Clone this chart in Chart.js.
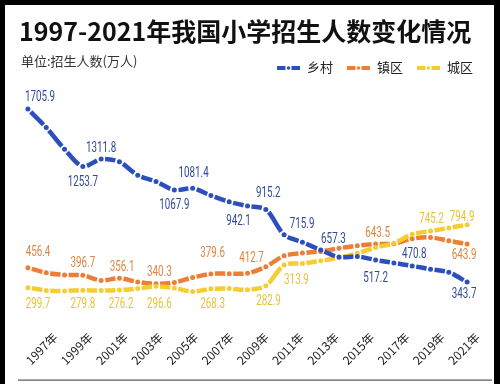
<!DOCTYPE html>
<html><head><meta charset="utf-8">
<script src="https://cdn.jsdelivr.net/npm/chart.js@4"></script>
<style>html,body{margin:0;padding:0;background:#000;} canvas{display:block;}</style>
</head><body>
<canvas id="c" width="500" height="384"></canvas>
<script>
// ---------- data ----------
const years = [1997,1998,1999,2000,2001,2002,2003,2004,2005,2006,2007,2008,2009,2010,2011,2012,2013,2014,2015,2016,2017,2018,2019,2020,2021];
const tickYears = [1997,1999,2001,2003,2005,2007,2009,2011,2013,2015,2017,2019,2021];
const rural = [1705.9,1560,1390,1253.7,1311.8,1290,1185,1135,1067.9,1081.4,1025,975,942.1,915.2,715.9,657.3,596,540,545,517.2,494,470.8,445,420,343.7];
const town  = [456.4,417,400,396.7,356.1,373,345,330,340.3,379.6,408,410,412.7,465,550,572,585,610,630,643.5,645,685,695,668,643.9];
const urban = [299.7,278,274,279.8,276.2,281,292,310,296.6,268.3,290,292,282.9,313.9,478,490,512,535,570,615,650,720,745.2,770,794.9];
const seriesNames = ['乡村','镇区','城区'];
const titleText = '1997-2021年我国小学招生人数变化情况';
const unitText = '单位:招生人数(万人)';
const yearSuffix = '年';
// which points carry a value label, per series
const ruralLabelIdx = [0,3,4,8,9,12,13,14,15,19,21,24];
const townLabelIdx  = [0,3,4,8,9,12,19,24];
const urbanLabelIdx = [0,3,4,8,9,12,13,22,24];

// ---------- styles / layout ----------
const lineColors = ['#2d4fbd','#ec7f35','#f6cd2f'];
const textColors = ['#2f4a9a','#e0843e','#e6c33c'];
// label offsets [dx, dy] from its point, per labelled point (same order as idx arrays)
const labelOffsets = [
  [[12,-12],[0,16.5],[0,-11],[0,15.5],[1,-15],[-9,15],[2.5,-15.5],[18,-10],[31,-3],[0,18],[2,-11],[-3,12]],
  [[10,-15],[0,-12],[21,-13],[-15,-10],[20,-24],[4,-15],[2,-10],[-3,12]],
  [[10,17],[0,14],[20,14],[-15,16.5],[20,13],[21,12],[30.6,-5],[1,-12],[-5,-7]]
];
const labelIdx = [ruralLabelIdx, townLabelIdx, urbanLabelIdx];
const seriesData = [rural, town, urban];

const framePlugin = {
  id: 'frame',
  beforeDraw(chart) {
    const c = chart.ctx;
    c.save();
    c.fillStyle = '#000';
    c.fillRect(0, 0, 500, 384);
    c.fillStyle = '#fff';
    c.fillRect(5, 5, 489, 379);
    c.fillStyle = '#555';
    c.fillRect(18, 379.5, 474, 1.2);
    c.restore();
  }
};

const textPlugin = {
  id: 'texts',
  afterDraw(chart) {
    const c = chart.ctx;
    c.save();
    c.textBaseline = 'middle';
    c.textAlign = 'left';
    c.fillStyle = '#111';
    c.font = 'bold 25px "Noto Sans CJK SC"';
    c.fillText(titleText, 19, 31);
    c.fillStyle = '#333';
    c.font = '13px "Noto Sans CJK SC"';
    c.fillText(unitText, 21, 61);
    // legend
    const lx = [277, 347, 417];
    chart.data.datasets.forEach((ds, k) => {
      const x = lx[k], y = 68;
      c.fillStyle = ds.borderColor;
      c.fillRect(x, y - 2, 8.5, 4);
      c.beginPath(); c.arc(x + 11.5, y, 1.8, 0, Math.PI * 2); c.fill();
      c.fillRect(x + 14.5, y - 2, 8.5, 4);
      c.fillStyle = '#222';
      c.font = '13px "Noto Sans CJK SC"';
      c.fillText(ds.label, x + 30, y - 0.5);
    });
    c.restore();
  }
};

const valueLabelPlugin = {
  id: 'valueLabels',
  afterDatasetsDraw(chart) {
    const c = chart.ctx;
    c.save();
    c.textAlign = 'center';
    c.textBaseline = 'middle';
    c.font = '14px Roboto';
    labelIdx.forEach((arr, s) => {
      const meta = chart.getDatasetMeta(s);
      arr.forEach((idx, j) => {
        const p = meta.data[idx];
        const off = labelOffsets[s][j];
        const txt = seriesData[s][idx].toFixed(1);
        c.save();
        c.translate(p.x + off[0], p.y + off[1]);
        c.scale(0.7, 1);
        c.fillStyle = textColors[s];
        c.fillText(txt, 0, 0);
        c.restore();
      });
    });
    c.restore();
  }
};

function makeDataset(k, order) {
  return {
    label: seriesNames[k],
    data: years.map((yr, i) => ({ x: yr, y: seriesData[k][i] })),
    borderColor: lineColors[k],
    backgroundColor: lineColors[k],
    borderWidth: 4.5,
    tension: 0.3,
    pointRadius: 2.5,
    pointBorderWidth: 0,
    pointBackgroundColor: lineColors[k],
    clip: false,
    order: order,
    segment: {
      borderDash: ctx => {
        const len = Math.hypot(ctx.p1.x - ctx.p0.x, ctx.p1.y - ctx.p0.y);
        const g = 4.2;
        return [0, g, Math.max(len - 2 * g, 1), 400];
      },
      borderDashOffset: ctx => (ctx.p0DataIndex % 2 ? 0.001 : 0)
    }
  };
}

new Chart(document.getElementById('c'), {
  type: 'line',
  data: {
    datasets: [makeDataset(0, 0), makeDataset(1, 2), makeDataset(2, 1)]
  },
  options: {
    responsive: false,
    animation: false,
    devicePixelRatio: 1,
    layout: { padding: { left: 18, right: 10, top: 90, bottom: 5 } },
    plugins: { legend: { display: false }, tooltip: { enabled: false }, title: { display: false } },
    scales: {
      x: { type: 'linear', display: false, min: 1996.457, max: 2022.086 },
      xl: {
        type: 'linear', position: 'bottom', min: 1994.882, max: 2021.536,
        grid: { display: false, drawTicks: false },
        border: { display: false },
        afterBuildTicks: s => { s.ticks = tickYears.map(v => ({ value: v })); },
        afterFit: s => { s.height = 61; },
        ticks: {
          autoSkip: false, minRotation: 45, maxRotation: 45, padding: 12,
          color: '#222',
          font: { family: '"Noto Sans CJK SC"', size: 12 },
          callback: v => v + yearSuffix
        }
      },
      y: { display: false, min: 60.6, max: 1855.9 }
    }
  },
  plugins: [framePlugin, textPlugin, valueLabelPlugin]
});
</script>
</body></html>
